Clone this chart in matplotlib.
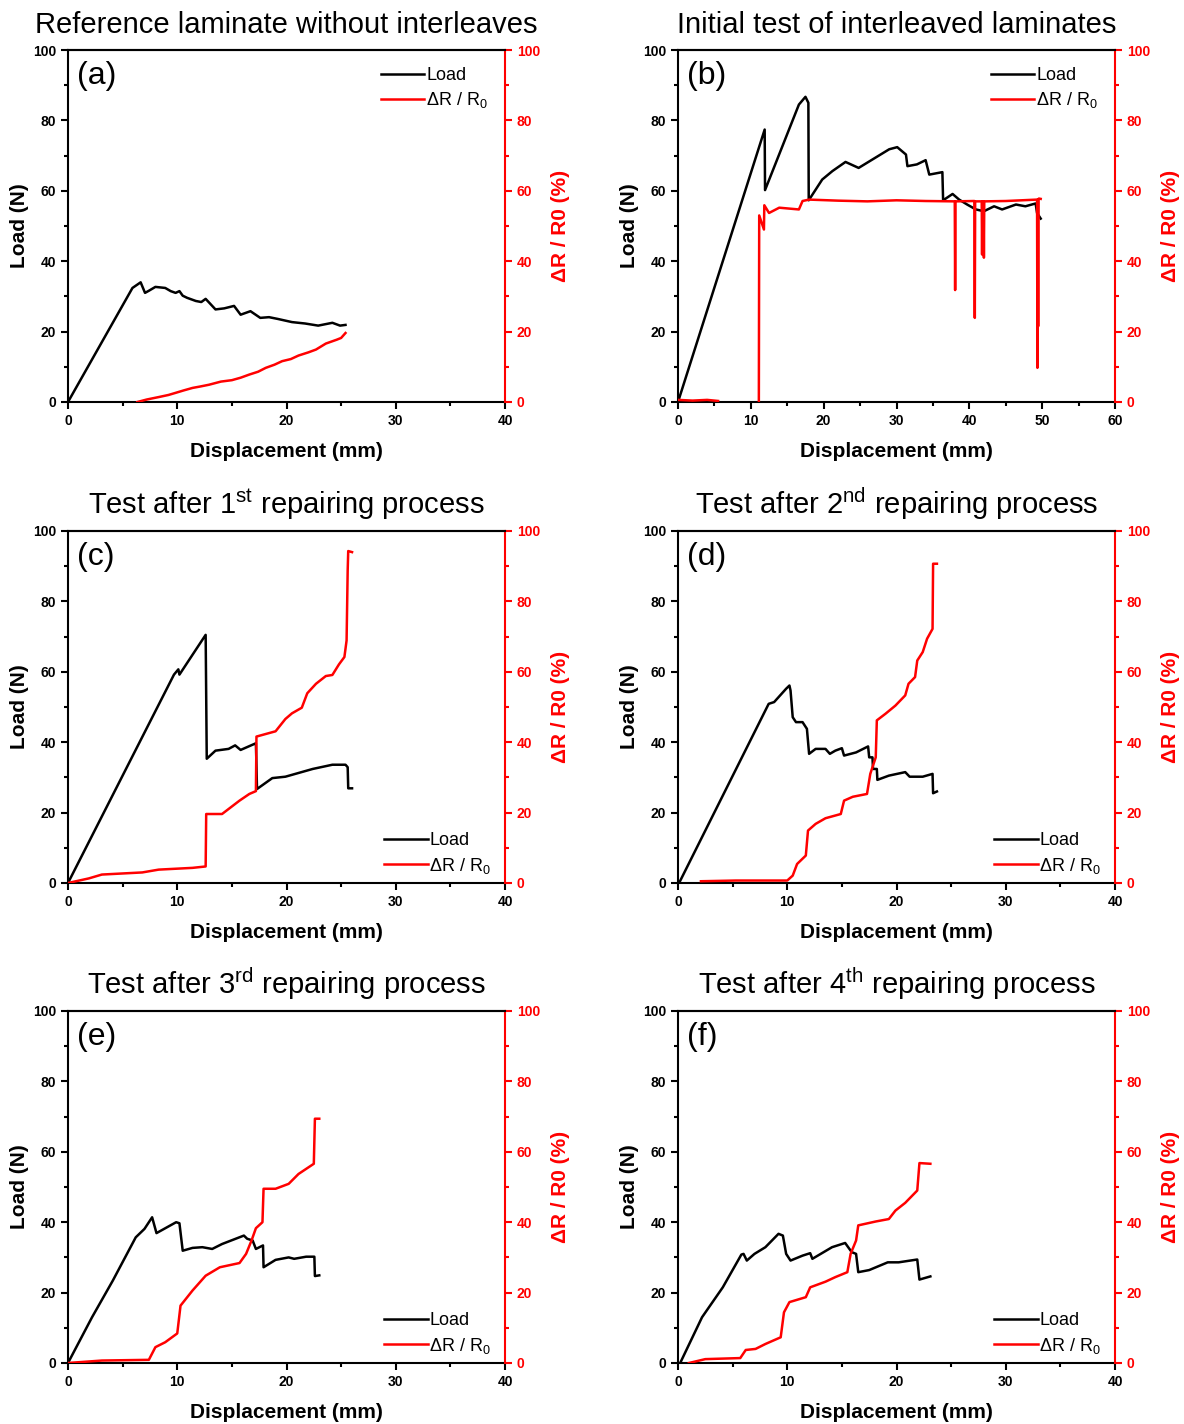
import numpy as np
import matplotlib

matplotlib.use("Agg")
import matplotlib.pyplot as plt
from matplotlib.lines import Line2D

plt.rcParams["font.family"] = ["Liberation Sans", "DejaVu Sans"]
plt.rcParams["mathtext.fontset"] = "custom"
plt.rcParams["mathtext.rm"] = "Liberation Sans"

nan = np.nan

# (a) reference laminate
a_load_x = [0, 5.9, 6.65, 7.05, 7.4, 8.0, 8.9, 9.4, 9.85, 10.2, 10.5, 10.9, 11.7, 12.2, 12.6,
            13.5, 14.3, 15.2, 15.8, 16.7, 17.6, 18.4, 19.2, 20.5, 21.7, 22.9, 24.2, 24.9, 25.4]
a_load_y = [0, 32.4, 34.0, 31.0, 31.6, 32.7, 32.4, 31.5, 31.0, 31.5, 30.2, 29.6, 28.7, 28.4,
            29.3, 26.3, 26.6, 27.3, 24.8, 25.8, 23.9, 24.1, 23.6, 22.7, 22.3, 21.7, 22.5,
            21.7, 21.9]
a_dr_x = [6.35, 7.2, 8.3, 9.2, 9.85, 10.6, 11.4, 12.1, 12.9, 14.0, 15.0, 15.8, 16.6, 17.4,
          18.1, 18.9, 19.6, 20.4, 21.1, 22.0, 22.7, 23.6, 24.6, 25.0, 25.4]
a_dr_y = [0, 0.7, 1.4, 2.0, 2.6, 3.3, 4.0, 4.4, 4.9, 5.8, 6.2, 6.9, 7.8, 8.6, 9.7, 10.6, 11.6,
          12.2, 13.2, 14.1, 14.9, 16.6, 17.7, 18.2, 19.6]

# (b) initial test of interleaved laminates
b_load_x = [0, 11.9, 11.95, 16.6, 17.5, 17.9, 17.95, 19.8, 21.2, 23.0, 24.8, 26.7, 29.0, 30.1,
            31.3, 31.5, 32.8, 34.0, 34.5, 36.3, 36.4, 37.7, 38.6, 39.7, 40.9, 42.0, 43.4,
            44.5, 46.4, 47.7, 49.1, 49.3, 49.8]
b_load_y = [0, 77.4, 60.2, 84.5, 86.7, 85.0, 57.3, 63.2, 65.6, 68.2, 66.5, 68.9, 71.8, 72.4,
            70.3, 67.0, 67.5, 68.7, 64.6, 65.3, 57.3, 59.1, 57.5, 56.1, 54.7, 54.2, 55.6,
            54.7, 56.1, 55.6, 56.4, 53.7, 52.1]
b_dr_x = [0, 2.0, 4.0, 5.5, 5.6, 11.1, 11.15, 11.8, 11.85, 12.5, 13.9, 16.6, 17.1, 18.0, 22.0,
          26.0, 30.0, 34.0, 38.0, 38.05, 38.1, 40.7, 40.75, 40.8, 41.7, 41.75, 41.8, 41.95,
          42.0, 42.05, 45.0, 49.3, 49.35, 49.4, 49.45, 49.5, 49.55, 49.8]
b_dr_y = [0.6, 0.4, 0.6, 0.3, nan, 0, 53.0, 49.0, 55.9, 53.7, 55.2, 54.7, 57.1, 57.5, 57.2,
          57.0, 57.3, 57.1, 57.0, 31.8, 57.0, 57.1, 23.9, 57.0, 57.0, 41.9, 57.0, 57.0,
          41.0, 57.0, 57.1, 57.5, 9.7, 57.5, 21.5, 57.6, 57.8, 57.7]

# (c) after 1st repairing process
c_load_x = [0, 9.7, 10.1, 10.2, 12.6, 12.7, 13.5, 14.7, 15.3, 15.8, 17.2, 17.3, 18.7, 19.9,
            22.4, 24.2, 25.4, 25.6, 25.65, 26.0]
c_load_y = [0, 59.2, 60.7, 59.2, 70.5, 35.3, 37.6, 38.1, 39.1, 37.8, 39.7, 26.7, 29.8, 30.2,
            32.4, 33.6, 33.6, 32.9, 26.9, 26.9]
c_dr_x = [0, 1.9, 3.1, 6.8, 8.3, 11.4, 12.6, 12.65, 14.1, 15.7, 16.6, 17.2, 17.25, 19.0, 19.9,
          20.5, 21.4, 21.9, 22.7, 23.6, 24.2, 24.8, 25.3, 25.5, 25.6, 25.65, 26.0]
c_dr_y = [0, 1.3, 2.4, 3.0, 3.8, 4.3, 4.7, 19.6, 19.6, 23.4, 25.3, 26.1, 41.6, 43.1, 46.6,
          48.2, 49.8, 53.9, 56.6, 58.8, 59.1, 62.1, 64.2, 68.9, 88.8, 94.3, 94.0]

# (d) after 2nd repairing process
d_load_x = [0.1, 8.3, 8.8, 9.9, 10.2, 10.3, 10.5, 10.8, 11.4, 11.8, 12.0, 12.6, 13.5, 13.9,
            14.4, 15.0, 15.2, 16.3, 17.4, 17.5, 17.8, 17.85, 18.2, 18.25, 19.3, 20.8, 21.2,
            22.4, 23.3, 23.35, 23.7]
d_load_y = [0, 50.9, 51.4, 55.2, 56.1, 54.7, 47.1, 45.7, 45.7, 43.8, 36.7, 38.1, 38.1, 36.7,
            37.6, 38.3, 36.2, 37.1, 38.8, 35.7, 35.7, 32.4, 32.4, 29.3, 30.5, 31.5, 30.2,
            30.2, 31.0, 25.5, 26.0]
d_dr_x = [2.1, 5.3, 10.0, 10.5, 10.9, 11.7, 11.9, 12.6, 13.5, 14.9, 15.2, 16.0, 17.3, 17.6,
          18.1, 18.2, 19.0, 19.9, 20.8, 21.1, 21.7, 21.9, 22.4, 22.8, 23.3, 23.35, 23.7]
d_dr_y = [0.5, 0.7, 0.7, 2.1, 5.4, 7.8, 14.9, 16.8, 18.4, 19.6, 23.4, 24.5, 25.3, 31.0, 35.7,
          46.2, 48.1, 50.4, 53.3, 56.6, 58.5, 63.2, 65.6, 69.4, 72.2, 90.7, 90.7]

# (e) after 3rd repairing process
e_load_x = [0, 2.2, 4.1, 6.2, 7.0, 7.7, 8.1, 9.9, 10.2, 10.5, 11.4, 12.3, 13.2, 14.1, 16.1,
            16.4, 16.9, 17.2, 17.85, 17.9, 19.0, 20.2, 20.7, 21.8, 22.55, 22.6, 23.0]
e_load_y = [0, 13.0, 23.4, 35.7, 38.1, 41.4, 36.9, 40.0, 39.7, 31.9, 32.7, 32.9, 32.4, 33.8,
            36.2, 35.3, 34.8, 32.4, 33.4, 27.2, 29.3, 30.0, 29.6, 30.2, 30.2, 24.7, 24.9]
e_dr_x = [0, 3.1, 7.4, 8.0, 8.9, 10.0, 10.3, 11.4, 12.6, 13.9, 15.7, 16.3, 16.8, 17.2, 17.8,
          17.9, 19.0, 20.2, 21.1, 22.5, 22.6, 23.0]
e_dr_y = [0, 0.7, 0.9, 4.5, 5.9, 8.4, 16.3, 20.6, 24.8, 27.2, 28.4, 31.0, 34.8, 38.3, 40.0,
          49.5, 49.5, 50.9, 53.7, 56.6, 69.4, 69.4]

# (f) after 4th repairing process
f_load_x = [0.2, 2.2, 4.1, 5.8, 6.0, 6.3, 7.0, 8.0, 9.2, 9.6, 9.9, 10.3, 11.4, 12.1, 12.3,
            14.1, 15.3, 15.9, 16.3, 16.5, 17.5, 19.2, 20.2, 21.9, 22.1, 23.1]
f_load_y = [0, 13.0, 21.5, 30.8, 31.0, 29.1, 31.0, 32.9, 36.7, 36.2, 31.0, 29.1, 30.5, 31.2,
            29.6, 32.9, 34.1, 31.5, 31.0, 25.8, 26.4, 28.6, 28.6, 29.4, 23.7, 24.6]
f_dr_x = [1.0, 2.5, 5.7, 6.2, 7.1, 8.0, 9.4, 9.7, 10.2, 11.7, 12.1, 13.5, 14.4, 15.5, 15.8,
          16.3, 16.5, 18.1, 19.3, 19.9, 20.8, 21.9, 22.1, 23.1]
f_dr_y = [0, 1.1, 1.4, 3.7, 4.0, 5.4, 7.3, 14.4, 17.3, 18.7, 21.5, 23.1, 24.4, 25.8, 31.0,
          34.8, 39.1, 40.2, 40.9, 43.3, 45.5, 49.0, 56.8, 56.6]

titles = [
    "Reference laminate without interleaves",
    "Initial test of interleaved laminates",
    r"Test after 1$^{\mathregular{st}}$ repairing process",
    r"Test after 2$^{\mathregular{nd}}$ repairing process",
    r"Test after 3$^{\mathregular{rd}}$ repairing process",
    r"Test after 4$^{\mathregular{th}}$ repairing process",
]
letters = ["(a)", "(b)", "(c)", "(d)", "(e)", "(f)"]
x_max = [40, 60, 40, 40, 40, 40]
legend_top = [True, True, False, False, False, False]

panels = [
    (a_load_x, a_load_y, a_dr_x, a_dr_y),
    (b_load_x, b_load_y, b_dr_x, b_dr_y),
    (c_load_x, c_load_y, c_dr_x, c_dr_y),
    (d_load_x, d_load_y, d_dr_x, d_dr_y),
    (e_load_x, e_load_y, e_dr_x, e_dr_y),
    (f_load_x, f_load_y, f_dr_x, f_dr_y),
]

W, H = 1184, 1424
fig = plt.figure(figsize=(W / 100, H / 100), dpi=100)

lefts = [68, 678]
tops = [50, 531, 1011]
ax_w, ax_h = 437, 352

for i, (lx, ly, rx, ry) in enumerate(panels):
    col, row = i % 2, i // 2
    left = lefts[col] / W
    bottom = 1 - (tops[row] + ax_h) / H
    ax = fig.add_axes([left, bottom, ax_w / W, ax_h / H])
    ax2 = ax.twinx()

    ax.plot(lx, ly, color="black", lw=1.8)
    ax2.plot(rx, ry, color="red", lw=1.8)

    ax.set_xlim(0, x_max[i])
    ax.set_ylim(0, 100)
    ax2.set_ylim(0, 100)
    ax.set_xticks(np.arange(0, x_max[i] + 1, 10))
    ax.set_xticks(np.arange(5, x_max[i], 10), minor=True)
    ax.set_yticks(np.arange(0, 101, 20))
    ax.set_yticks(np.arange(10, 100, 20), minor=True)
    ax2.set_yticks(np.arange(0, 101, 20))
    ax2.set_yticks(np.arange(10, 100, 20), minor=True)

    for a in (ax, ax2):
        for s in a.spines.values():
            s.set_linewidth(1.5)
    ax.spines["right"].set_visible(False)
    ax2.spines["left"].set_visible(False)
    ax2.spines["bottom"].set_visible(False)
    ax2.spines["right"].set_color("red")

    ax.tick_params(which="major", direction="out", length=5, width=1.5, labelsize=10,
                   top=False, right=False)
    ax.tick_params(which="minor", direction="out", length=3, width=1.5, top=False, right=False)
    ax2.tick_params(which="major", direction="out", length=5, width=1.5, labelsize=10,
                    colors="red")
    ax2.tick_params(which="minor", direction="out", length=3, width=1.5, colors="red")
    for t in ax.get_xticklabels() + ax.get_yticklabels() + ax2.get_yticklabels():
        t.set_fontweight("bold")

    ax.set_xlabel("Displacement (mm)", fontsize=15, fontweight="bold", labelpad=10)
    ax.set_ylabel("Load (N)", fontsize=15, fontweight="bold", labelpad=3)
    ax2.set_ylabel("ΔR / R0 (%)", fontsize=15, fontweight="bold", color="red", labelpad=8)

    ax.set_title(titles[i], fontsize=21, pad=12)
    ax.text(0.02, 0.925, letters[i], transform=ax.transAxes, fontsize=23,
            ha="left", va="center")

    handles = [Line2D([], [], color="black", lw=1.8), Line2D([], [], color="red", lw=1.8)]
    labels = ["Load", r"ΔR / R$_{\mathregular{0}}$"]
    if legend_top[i]:
        ax2.legend(handles, labels, loc="upper right", frameon=False, fontsize=13,
                   handlelength=2.4, handletextpad=0.1, labelspacing=0.35,
                   borderaxespad=0.55)
    else:
        ax2.legend(handles, labels, loc="lower right", bbox_to_anchor=(0.985, 0.0),
                   frameon=False, fontsize=13, handlelength=2.4, handletextpad=0.1,
                   labelspacing=0.35, borderaxespad=0.0)

fig.savefig("out.png", dpi=100)
